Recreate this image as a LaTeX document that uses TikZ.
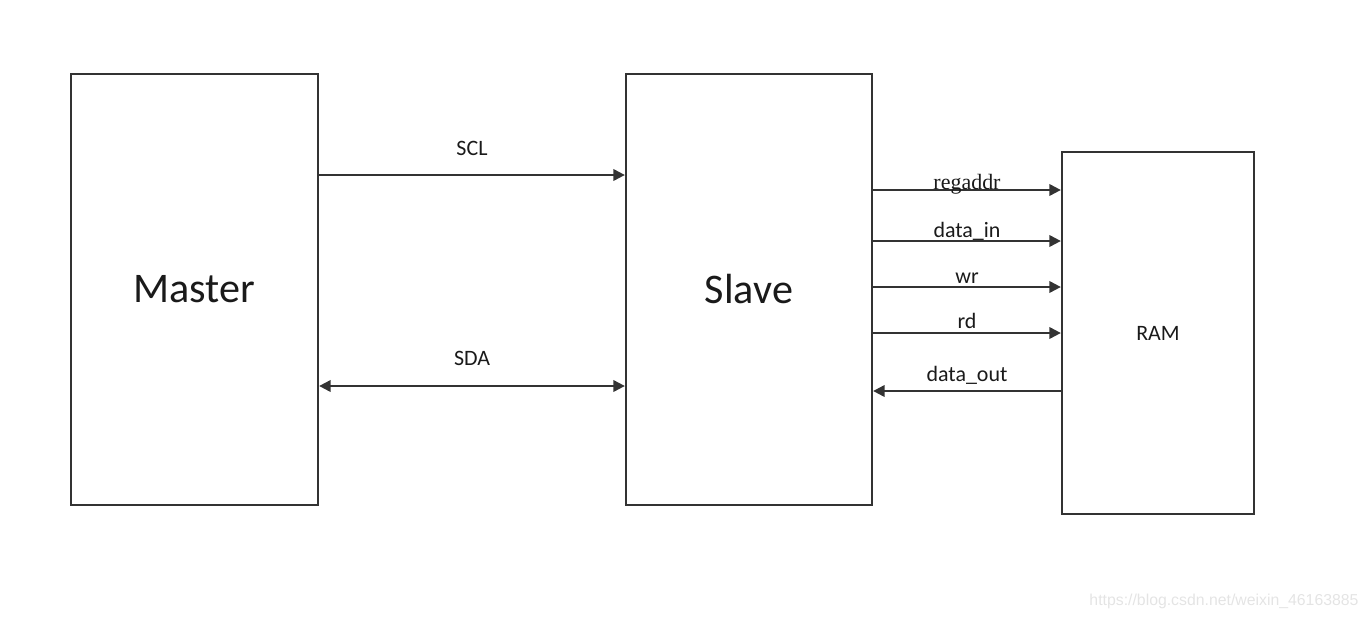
\documentclass[tikz,border=0pt]{standalone}
\usepackage{fontspec}
\setmainfont{Carlito}
\newfontfamily\regfont{Liberation Serif}
\newfontfamily\wmfont{Liberation Sans}
\usetikzlibrary{arrows.meta, positioning}
\definecolor{cline}{HTML}{333333}
\definecolor{ctext}{HTML}{1A1A1A}
\definecolor{cmark}{HTML}{E4E4E4}
\tikzset{
  every picture/.style={line width=1.3pt},
  box/.style={draw=cline, minimum width=#1, inner sep=0pt, text=ctext},
  arrow/.style={-{Triangle[length=6.5pt, width=6.5pt]}, draw=cline, line width=1.2pt},
  dualarrow/.style={{Triangle[length=6.5pt, width=6.5pt]}-{Triangle[length=6.5pt, width=6.5pt]}, draw=cline, line width=1.2pt},
  sig/.style={font=\fontsize{12.5}{14}\selectfont, text=ctext, anchor=base, inner sep=0pt},
  big/.style={font=\fontsize{24}{28}\selectfont},
}

\begin{document}
\begin{tikzpicture}
  \useasboundingbox (0,0) rectangle (27.38,-12.38);
  % blocks
  \node[box=4.94cm, minimum height=8.62cm, big] (master) at (3.89,-5.79) {Master};
  \node[box=4.92cm, minimum height=8.62cm, big] (slave) at (14.98,-5.79) {Slave};
  \node[box=3.84cm, minimum height=7.24cm, font=\fontsize{12.5}{14}\selectfont] (ram) at (23.16,-6.66) {RAM};
  % i2c bus
  \draw[arrow] (master.east |- 0,-3.5) -- node[sig, yshift=0.4cm] {SCL} (slave.west |- 0,-3.5);
  \draw[dualarrow] (master.east |- 0,-7.72) -- node[sig, yshift=0.42cm] {SDA} (slave.west |- 0,-7.72);
  % ram interface
  \foreach \y/\lab/\dy in {-3.8/{\regfont regaddr}/0.02, -4.82/data\_in/0.08, -5.74/wr/0.08, -6.66/rd/0.1}
    \draw[arrow] (slave.east |- 0,\y) -- node[sig, yshift=\dy cm] {\lab} (ram.west |- 0,\y);
  \draw[arrow] (ram.west |- 0,-7.82) -- node[sig, yshift=0.2cm] {data\_out} (slave.east |- 0,-7.82);
  \node[font=\wmfont\fontsize{9}{11}\selectfont, text=cmark] (mark) at (24.48,-12.02) {https://blog.csdn.net/weixin\_46163885};
\end{tikzpicture}
\end{document}
